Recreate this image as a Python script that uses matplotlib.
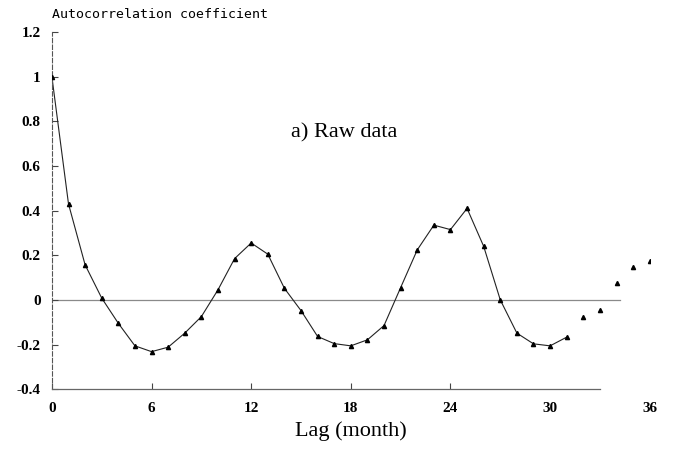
import matplotlib
matplotlib.use("Agg")
import matplotlib.pyplot as plt
import numpy as np

# monthly lags and autocorrelation values
lags = list(range(37))
acf = [1.00, 0.43, 0.157, 0.008, -0.105, -0.206, -0.232, -0.212, -0.149, -0.075,
       0.045, 0.185, 0.255, 0.205, 0.052, -0.048, -0.164, -0.196, -0.206, -0.179,
       -0.115, 0.055, 0.224, 0.335, 0.315, 0.41, 0.24, 0.0, -0.149, -0.197,
       -0.206, -0.167, -0.078, -0.045, 0.075, 0.149, 0.176]
line_end = 32  # the drawn curve stops here, only markers after
xticks = [0, 6, 12, 18, 24, 30, 36]
yticks = [-0.4, -0.2, 0, 0.2, 0.4, 0.6, 0.8, 1, 1.2]
ytick_labels = ["-0.4", "-0.2", "0", "0.2", "0.4", "0.6", "0.8", "1", "1.2"]

fig = plt.figure(figsize=(6.74, 4.53), dpi=100)
ax = fig.add_axes([0.077, 0.141, 0.887, 0.788])

ax.axhline(0, color="#8a8a8a", lw=0.9, xmax=0.95, zorder=1)
ax.plot(lags[:line_end], acf[:line_end], color="#222222", lw=0.8, zorder=2)
ax.plot(lags, acf, ls="none", marker="^", ms=3, color="black", zorder=3)

ax.set_xlim(0, 36)
ax.set_ylim(-0.4, 1.2)
ax.set_xticks(xticks)
ax.set_yticks(yticks)
ax.set_yticklabels(ytick_labels)

for s in ["top", "right"]:
    ax.spines[s].set_visible(False)
ax.spines["left"].set_color("#555555")
ax.spines["left"].set_linestyle((0, (4, 2)))
ax.spines["left"].set_linewidth(0.8)
ax.spines["bottom"].set_color("#666666")
ax.spines["bottom"].set_linewidth(0.9)
ax.spines["bottom"].set_bounds(0, 33)

ax.tick_params(axis="x", direction="in", length=4, width=0.8, color="#444444",
               pad=9)
ax.tick_params(axis="y", direction="in", length=4, width=0.8, color="#444444",
               pad=8)
# no tick marks past the end of the drawn bottom line
for t in ax.xaxis.get_major_ticks()[-2:]:
    t.tick1line.set_visible(False)
for lab in ax.get_xticklabels() + ax.get_yticklabels():
    lab.set_fontfamily("Liberation Serif")
    lab.set_fontweight("bold")
    lab.set_fontsize(11)

ax.set_xlabel("Lag (month)", family="Liberation Serif", fontsize=16, labelpad=5)
fig.text(0.077, 0.968, "Autocorrelation coefficient", family="DejaVu Sans Mono",
         fontsize=9.5, ha="left", va="center")
ax.text(17.6, 0.75, "a) Raw data", family="Liberation Serif", fontsize=16,
        ha="center", va="center")

fig.savefig("out.png", dpi=100)
